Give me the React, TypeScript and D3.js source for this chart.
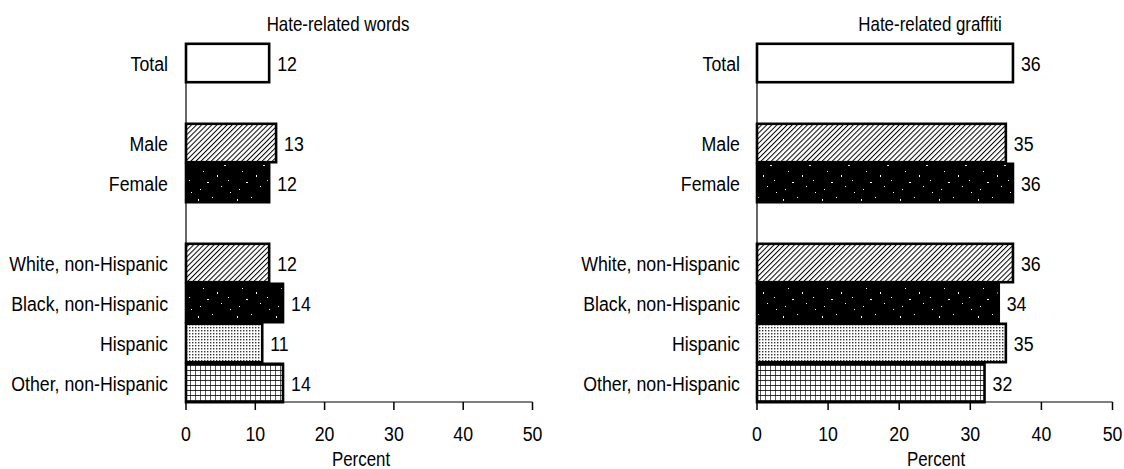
import React from "react";
import * as d3 from "d3";

const categories = ["Total", "Male", "Female", "White, non-Hispanic", "Black, non-Hispanic", "Hispanic", "Other, non-Hispanic"];
const rowSlots = ["Total", "gap1", "Male", "Female", "gap2", "White, non-Hispanic", "Black, non-Hispanic", "Hispanic", "Other, non-Hispanic"];
const wordsValues = [12, 13, 12, 12, 14, 11, 14];
const graffitiValues = [36, 35, 36, 36, 34, 35, 32];
const patternIds = ["pWhite", "pHatch", "pSpeckle", "pHatch", "pSpeckle", "pDots", "pGrid"];
const ticks = [0, 10, 20, 30, 40, 50];
const panels = [
  { title: "Hate-related words", values: wordsValues, x0: 186, x1: 532.5, titleX: 338, labelRight: 168, percentX: 361 },
  { title: "Hate-related graffiti", values: graffitiValues, x0: 757, x1: 1112.5, titleX: 930, labelRight: 740, percentX: 936 },
];

const FONT = "'Liberation Sans', Arial, sans-serif";
const SX = 0.845;

const specks: [number, number, number, number][] = [
  [3, 4, 1, 2], [17, 2, 1, 1], [29, 9, 2, 1], [8, 15, 1, 1], [22, 19, 1, 2], [33, 24, 1, 1], [12, 26, 2, 1], [26, 30, 1, 1], [5, 33, 1, 1], [35, 36, 1, 1],
];

function T({ x, y, anchor = "start", size = 21, children }: { x: number; y: number; anchor?: string; size?: number; children: React.ReactNode }) {
  return (
    <text transform={`translate(${x},${y}) scale(${SX},1)`} textAnchor={anchor} fontSize={size} fontFamily={FONT} fill="#000">
      {children}
    </text>
  );
}

function Panel({ title, values, x0, x1, titleX, labelRight, percentX }: { title: string; values: number[]; x0: number; x1: number; titleX: number; labelRight: number; percentX: number }) {
  const x = d3.scaleLinear().domain([0, 50]).range([x0, x1]);
  const y = d3.scaleBand<string>().domain(rowSlots).range([43, 403]).padding(0);
  const axisY = 402;
  const bw = y.bandwidth();
  return (
    <g>
      <T x={titleX} y={31} anchor="middle" size={20}>{title}</T>
      <line x1={x0} x2={x0} y1={43} y2={axisY} stroke="#000" strokeWidth={1.2} />
      {categories.map((c, i) => {
        const yy = y(c)!;
        const mid = yy + bw / 2 + 7.5;
        return (
          <g key={c}>
            <T x={labelRight} y={mid} anchor="end">{c}</T>
            <rect x={x(0)} y={yy + 0.8} width={x(values[i]) - x(0)} height={bw - 1.6} fill={`url(#${patternIds[i]})`} stroke="#000" strokeWidth={2.6} />
            <T x={x(values[i]) + 8} y={mid}>{values[i]}</T>
          </g>
        );
      })}
      <line x1={x0} x2={x1} y1={axisY} y2={axisY} stroke="#000" strokeWidth={1.2} />
      {ticks.map((t) => (
        <g key={t}>
          <line x1={x(t)} x2={x(t)} y1={axisY} y2={axisY + 8} stroke="#000" strokeWidth={1.5} />
          <T x={x(t)} y={441} anchor="middle">{t}</T>
        </g>
      ))}
      <T x={percentX} y={466} anchor="middle" size={20}>Percent</T>
    </g>
  );
}

export default function App() {
  return (
    <svg width={1124} height={469} style={{ display: "block", position: "absolute", left: 0, top: 0, background: "#fff" }}>
      <defs>
        <pattern id="pWhite" patternUnits="userSpaceOnUse" width={10} height={10}>
          <rect width={10} height={10} fill="#fff" />
        </pattern>
        <pattern id="pHatch" patternUnits="userSpaceOnUse" width={3.6} height={3.6} patternTransform="rotate(45)">
          <rect width={3.6} height={3.6} fill="#fff" />
          <line x1={0} y1={0} x2={0} y2={3.6} stroke="#000" strokeWidth={2} />
        </pattern>
        <pattern id="pSpeckle" patternUnits="userSpaceOnUse" width={39} height={39}>
          <rect width={39} height={39} fill="#000" />
          {specks.map(([sx, sy, w, h], k) => (
            <rect key={k} x={sx} y={sy} width={w} height={h} fill="#fff" />
          ))}
        </pattern>
        <pattern id="pDots" patternUnits="userSpaceOnUse" width={3} height={3}>
          <rect width={3} height={3} fill="#fff" />
          <rect x={0} y={0} width={1.4} height={1.4} fill="#333" />
        </pattern>
        <pattern id="pGrid" patternUnits="userSpaceOnUse" width={5} height={5}>
          <rect width={5} height={5} fill="#fff" />
          <line x1={0} y1={0} x2={5} y2={0} stroke="#000" strokeWidth={1.6} />
          <line x1={0} y1={0} x2={0} y2={5} stroke="#000" strokeWidth={1.3} />
        </pattern>
      </defs>
      {panels.map((p) => (
        <Panel key={p.title} {...p} />
      ))}
    </svg>
  );
}
